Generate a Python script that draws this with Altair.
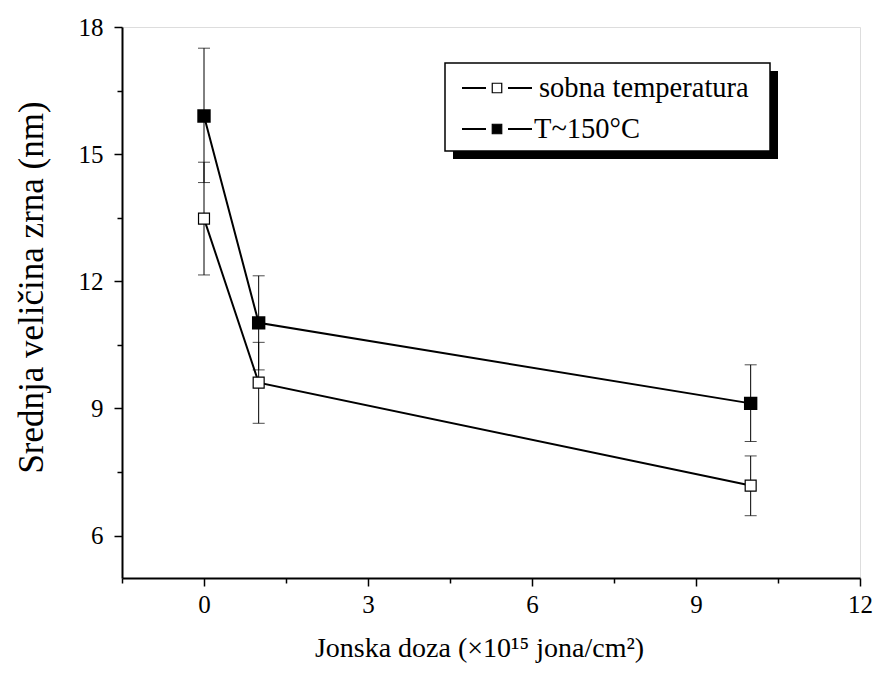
import altair as alt
import pandas as pd

# ---- data ----
dose = [0, 1, 10]
sobna_val = [13.48, 9.61, 7.18]
sobna_lo = [12.15, 8.65, 6.47]
sobna_hi = [14.81, 10.56, 7.88]
t150_val = [15.9, 11.02, 9.12]
t150_lo = [14.33, 9.91, 8.22]
t150_hi = [17.5, 12.13, 10.03]
series_names = ["sobna temperatura", "T~150°C"]
x_ticks = [-1.5, 0, 1.5, 3, 4.5, 6, 7.5, 9, 10.5, 12]
y_ticks = [6, 7.5, 9, 10.5, 12, 13.5, 15, 16.5, 18]

rows = []
for name, v, lo, hi in [(series_names[0], sobna_val, sobna_lo, sobna_hi),
                        (series_names[1], t150_val, t150_lo, t150_hi)]:
    for d, a, b, c in zip(dose, v, lo, hi):
        rows.append({"dose": d, "series": name, "val": a, "lo": b, "hi": c})
df = pd.DataFrame(rows)
one = pd.DataFrame({"k": [0]})

FONT = "Liberation Serif"
xs = alt.Scale(domain=[-1.5, 12], nice=False, zero=False)
ys = alt.Scale(domain=[5, 18], nice=False, zero=False)

xaxis = alt.Axis(
    values=x_ticks,
    title="Jonska doza (×10¹⁵ jona/cm²)",
    labelExpr="datum.value % 3 === 0 ? datum.label : ''",
    tickSize={"condition": {"test": "datum.value % 3 === 0", "value": 8}, "value": 5},
    grid=False, labelFontSize=25, titleFontSize=28, labelPadding=6, titlePadding=17,
    labelFlush=False, titleX=357,
    labelFont=FONT, titleFont=FONT, titleFontWeight="normal",
    domainColor="black", domainWidth=2, tickColor="black", tickWidth=1.5,
    labelColor="black", titleColor="black",
)
yaxis = alt.Axis(
    values=y_ticks,
    title="Srednja veličina zrna (nm)",
    labelExpr="datum.value % 3 === 0 ? datum.label : ''",
    tickSize={"condition": {"test": "datum.value % 3 === 0", "value": 8}, "value": 5},
    grid=False, labelFontSize=25, titleFontSize=35, labelPadding=11, titlePadding=29,
    labelFlush=False, titleY=260,
    labelFont=FONT, titleFont=FONT, titleFontWeight="normal",
    domainColor="black", domainWidth=2, tickColor="black", tickWidth=1.5,
    labelColor="black", titleColor="black",
)

base = alt.Chart(df)
x_enc = alt.X("dose:Q", scale=xs, axis=xaxis)
y_enc = alt.Y("val:Q", scale=ys, axis=yaxis)

err = base.mark_rule(color="black", strokeWidth=1).encode(
    x=alt.X("dose:Q", scale=xs), y=alt.Y("lo:Q", scale=ys), y2="hi:Q")
cap_lo = base.mark_tick(color="black", thickness=1, size=12, orient="horizontal").encode(
    x=alt.X("dose:Q", scale=xs), y=alt.Y("lo:Q", scale=ys))
cap_hi = base.mark_tick(color="black", thickness=1, size=12, orient="horizontal").encode(
    x=alt.X("dose:Q", scale=xs), y=alt.Y("hi:Q", scale=ys))

lines = base.mark_line(color="black", strokeWidth=2).encode(
    x=x_enc, y=y_enc, detail="series:N")

pts_open = base.transform_filter(alt.datum.series == series_names[0]).mark_point(
    shape="square", size=120, filled=True, fill="white", stroke="black", strokeWidth=1.2, opacity=1
).encode(x=alt.X("dose:Q", scale=xs), y=alt.Y("val:Q", scale=ys))
pts_fill = base.transform_filter(alt.datum.series == series_names[1]).mark_point(
    shape="square", size=130, filled=True, fill="black", stroke="black", opacity=1
).encode(x=alt.X("dose:Q", scale=xs), y=alt.Y("val:Q", scale=ys))

# ---- legend (decoration, pixel placement inside plot area) ----
L, T = 323, 36   # legend box left/top inside plot area
W, H = 325, 88
shadow = alt.Chart(one).mark_rect(color="black").encode(
    x=alt.value(L + 8), x2=alt.value(L + W + 8), y=alt.value(T + 8), y2=alt.value(T + H + 8))
box = alt.Chart(one).mark_rect(fill="white", stroke="black", strokeWidth=1.5).encode(
    x=alt.value(L), x2=alt.value(L + W), y=alt.value(T), y2=alt.value(T + H))

leg_layers = []
for i, name in enumerate(series_names):
    yy = T + 25 + i * 41
    leg_layers.append(alt.Chart(one).mark_rule(color="black", strokeWidth=2).encode(
        x=alt.value(L + 17), x2=alt.value(L + 41), y=alt.value(yy)))
    leg_layers.append(alt.Chart(one).mark_rule(color="black", strokeWidth=2).encode(
        x=alt.value(L + 63), x2=alt.value(L + 87), y=alt.value(yy)))
    leg_layers.append(alt.Chart(one).mark_point(
        shape="square", size=90, filled=True, fill=("white" if i == 0 else "black"),
        stroke="black", strokeWidth=1.2, opacity=1).encode(
        x=alt.value(L + 52), y=alt.value(yy)))
    leg_layers.append(alt.Chart(one).mark_text(
        text=name, font=FONT, fontSize=28.5, fontWeight="normal", align="left",
        baseline="middle", color="black").encode(
        x=alt.value(L + (94 if i == 0 else 89)), y=alt.value(yy)))

chart = alt.layer(lines, err, cap_lo, cap_hi, pts_open, pts_fill, shadow, box, *leg_layers).properties(
    width=738, height=551,
    autosize=alt.AutoSizeParams(type="none"),
    padding={"left": 122, "top": 27, "right": 17, "bottom": 99},
).configure_view(stroke="black", strokeWidth=2).configure(background="white")

chart.save("out.html", embed_options={"renderer": "svg", "actions": False})
